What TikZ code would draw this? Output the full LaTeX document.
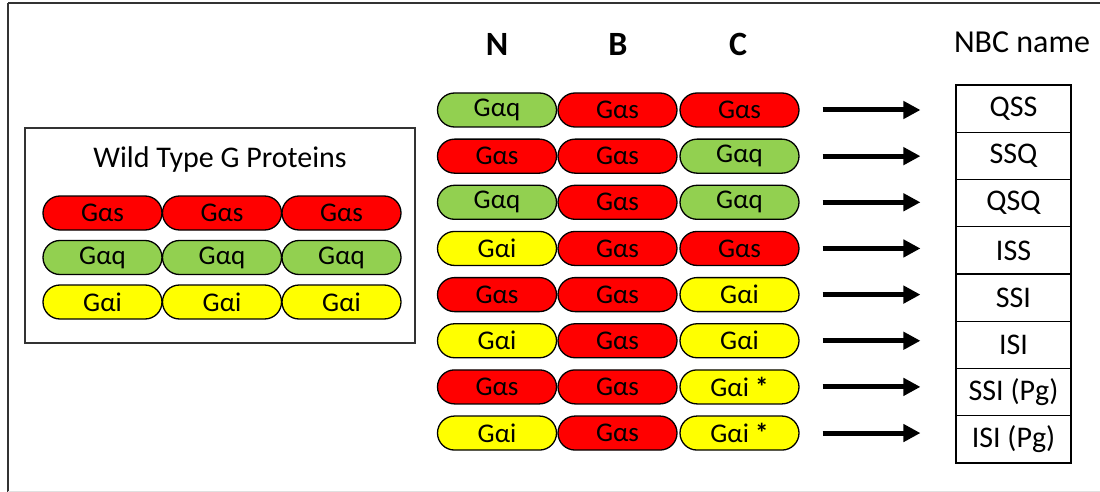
\documentclass[tikz,border=0pt]{standalone}
\usepackage{fontspec}
\setmainfont{Carlito}
\usetikzlibrary{shapes.misc,arrows.meta}
\definecolor{gsred}{HTML}{FF0000}
\definecolor{gqgreen}{HTML}{92D050}
\definecolor{giyellow}{HTML}{FFFF00}
\definecolor{frame}{HTML}{333333}
\tikzset{
  pill/.style={rounded rectangle, draw=black, line width=1.3pt,
    minimum width=119pt, minimum height=34pt, inner sep=0pt,
    font=\fontsize{27}{27}\selectfont},
  gs/.style={pill, fill=gsred},
  gq/.style={pill, fill=gqgreen},
  gi/.style={pill, fill=giyellow},
  cell/.style={draw=black, line width=1.1pt, minimum width=115pt,
    minimum height=47.25pt, inner sep=0pt, font=\fontsize{30}{30}\selectfont},
  colhead/.style={font=\fontsize{34}{34}\selectfont\bfseries},
  arr/.style={line width=5pt, -{Triangle[length=17pt,width=17pt]}},
}
\newcommand{\Gs}{Gαs}
\newcommand{\Gq}{Gαq}
\newcommand{\Gi}{Gαi}
\begin{document}
\begin{tikzpicture}[x=1pt,y=-1pt]
\useasboundingbox (0,0) rectangle (1100,492);
\fill[white] (0,0) rectangle (1100,492);
% outer frame
\draw[frame, line width=2pt] (8,3) -- (1110,3);
\draw[frame, line width=2.8pt] (8,3) -- (8,500);
\draw[black!12, line width=1pt] (8,491) -- (1110,491);

% wild type panel
\node[draw=frame, line width=1.5pt, minimum width=390pt, minimum height=215pt, inner sep=0pt] (wt) at (220,235.5) {};
\node[font=\fontsize{30}{30}\selectfont] (wttitle) at (220,160) {Wild Type G Proteins};
\node[gs] (ws1) at (102.5,213) {\Gs};
\node[gs] (ws2) at (222,213) {\Gs};
\node[gs] (ws3) at (341.5,213) {\Gs};
\node[gq] (wq1) at (102.5,257.5) {\Gq};
\node[gq] (wq2) at (222,257.5) {\Gq};
\node[gq] (wq3) at (341.5,257.5) {\Gq};
\node[gi] (wi1) at (102.5,302) {\Gi};
\node[gi] (wi2) at (222,302) {\Gi};
\node[gi] (wi3) at (341.5,302) {\Gi};

% column headers
\node[colhead] (hN) at (497,44) {N};
\node[colhead] (hB) at (618,44) {B};
\node[colhead] (hC) at (738,44) {C};
\node[font=\fontsize{32}{32}\selectfont] (hname) at (1022,42) {NBC name};

% chimeras: N, B, C domains and resulting name
\foreach \i/\n/\b/\c/\nt/\bt/\ct/\name in {
  1/gq/gs/gs/\Gq/\Gs/\Gs/QSS,
  2/gs/gs/gq/\Gs/\Gs/\Gq/SSQ,
  3/gq/gs/gq/\Gq/\Gs/\Gq/QSQ,
  4/gi/gs/gs/\Gi/\Gs/\Gs/ISS,
  5/gs/gs/gi/\Gs/\Gs/\Gi/SSI,
  6/gi/gs/gi/\Gi/\Gs/\Gi/ISI,
  7/gs/gs/gi/\Gs/\Gs/{\Gi\ \textbf{*}}/SSI (Pg),
  8/gi/gs/gi/\Gi/\Gs/{\Gi\ \textbf{*}}/ISI (Pg)} {
  \pgfmathsetmacro{\yy}{110+46.15*(\i-1)}
  \pgfmathsetmacro{\yc}{85+47.25*(\i-0.5)}
  \node[\n] (n\i) at (497,\yy) {\nt};
  \node[\b] (b\i) at (617.5,\yy) {\bt};
  \node[\c] (c\i) at (739.5,\yy) {\ct};
  \node[cell] (nm\i) at (1013.5,\yc) {\name};
  \draw[arr] ([xshift=23pt]c\i.east) -- ([xshift=-35pt]nm\i.west |- c\i.east);
}
\end{tikzpicture}
\end{document}
